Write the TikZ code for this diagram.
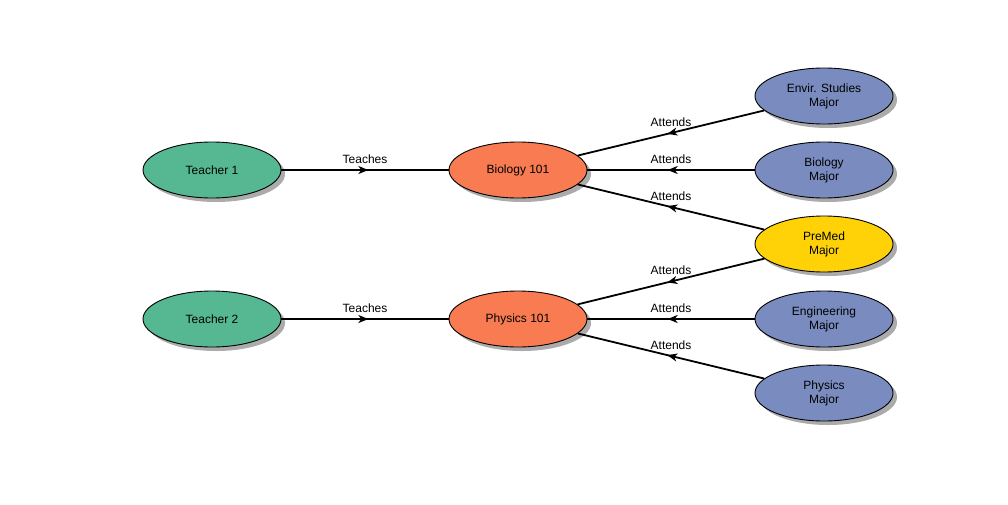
\documentclass[tikz,border=0pt]{standalone}
\usepackage{fontspec}
\setmainfont{Liberation Sans}
\usetikzlibrary{shapes.geometric,shadows,arrows.meta,decorations.markings}
\definecolor{tgreen}{HTML}{55B892}
\definecolor{corange}{HTML}{F97B52}
\definecolor{mblue}{HTML}{7A8CBF}
\definecolor{pyellow}{HTML}{FFD207}
\definecolor{shgray}{HTML}{ABABAB}
\tikzset{
  ent/.style={ellipse, draw=black, line width=0.9pt, minimum width=138pt, minimum height=56pt, inner sep=0pt, align=center,
    font=\fontsize{12}{14}\selectfont,
    drop shadow={shadow xshift=4pt, shadow yshift=-4pt, fill=shgray, opacity=1}},
  teacher/.style={ent, fill=tgreen},
  course/.style={ent, fill=corange},
  major/.style={ent, fill=mblue},
  premed/.style={ent, fill=pyellow},
  rel/.style={line width=1.8pt, black, decoration={markings, mark=at position 0.52 with {\arrow{Stealth[length=10pt,width=8pt,inset=3pt]}}}, postaction={decorate}},
  lbl/.style={font=\fontsize{12}{14}\selectfont, inner sep=0pt, yshift=11pt}
}
\begin{document}
\begin{tikzpicture}[x=1pt,y=-1pt]
\useasboundingbox (0,0) rectangle (1008,504);
\node[teacher] (t1) at (212,170) {Teacher 1};
\node[teacher] (t2) at (212,319) {Teacher 2};
\node[course] (bio) at (518,170) {Biology 101};
\node[course] (phy) at (518,319) {Physics 101};
\node[major] (env) at (824,96) {Envir. Studies\\Major};
\node[major] (biom) at (824,170) {Biology\\Major};
\node[premed] (pre) at (824,244) {PreMed\\Major};
\node[major] (eng) at (824,319) {Engineering\\Major};
\node[major] (phym) at (824,393) {Physics\\Major};
\draw[rel] (t1) -- node[lbl]{Teaches} (bio);
\draw[rel] (t2) -- node[lbl]{Teaches} (phy);
\draw[rel] (env) -- node[lbl]{Attends} (bio);
\draw[rel] (biom) -- node[lbl]{Attends} (bio);
\draw[rel] (pre) -- node[lbl]{Attends} (bio);
\draw[rel] (pre) -- node[lbl]{Attends} (phy);
\draw[rel] (eng) -- node[lbl]{Attends} (phy);
\draw[rel] (phym) -- node[lbl]{Attends} (phy);
\end{tikzpicture}
\end{document}
